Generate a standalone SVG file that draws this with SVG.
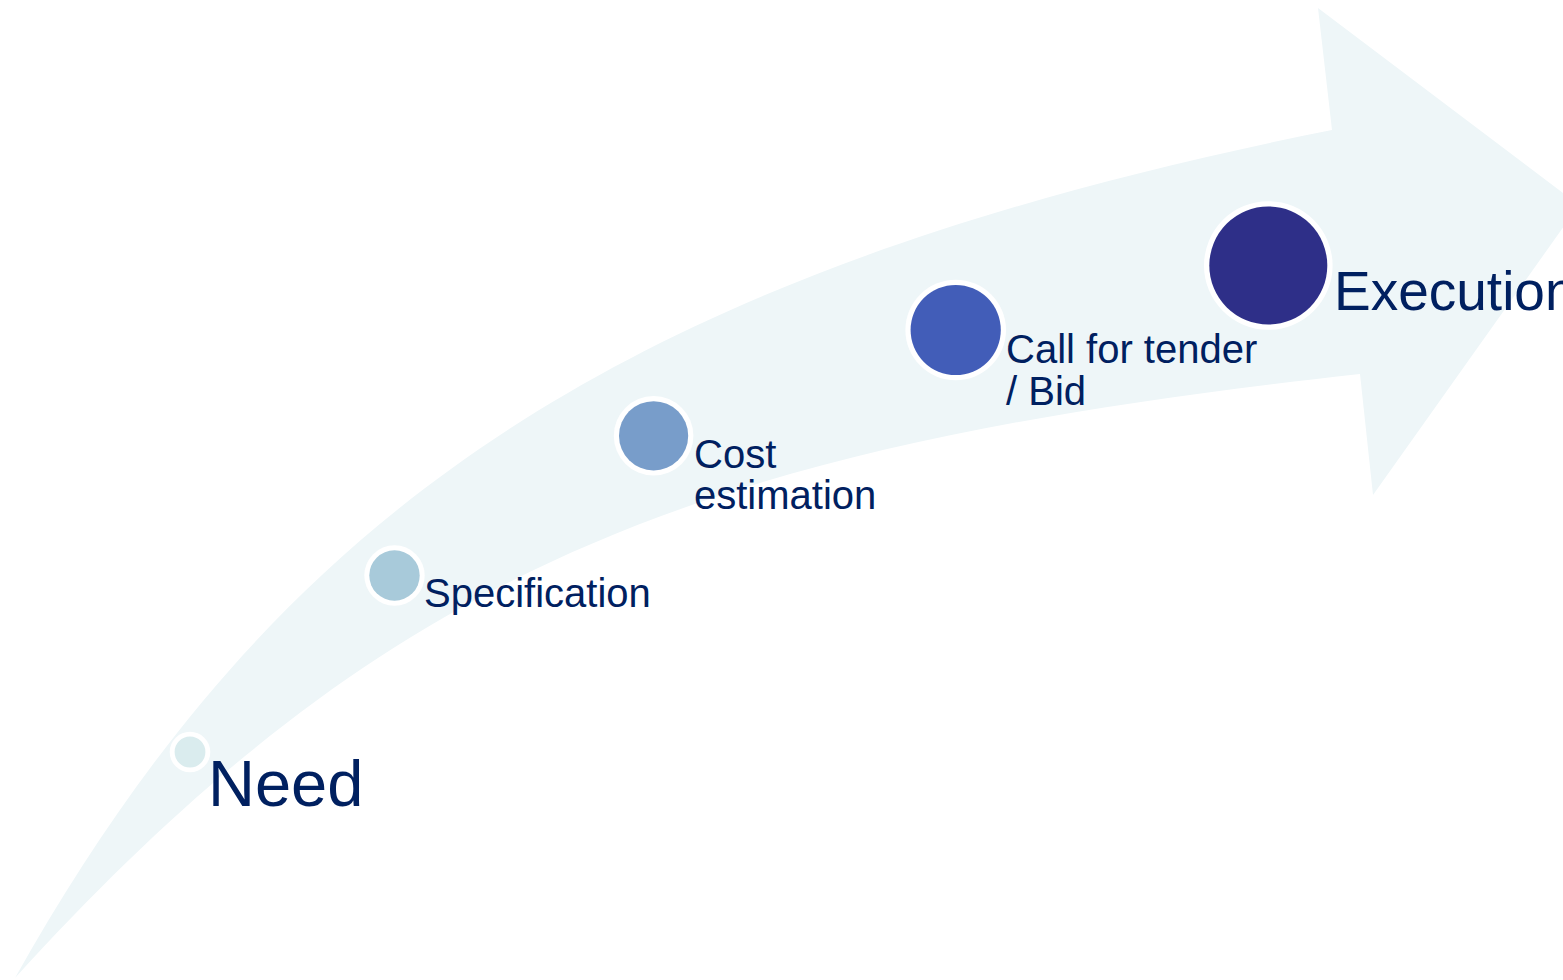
<svg xmlns="http://www.w3.org/2000/svg" width="1563" height="980" viewBox="0 0 1563 980">
  <style>
    .band { fill: #EEF6F8; stroke: none; }
    .ring { fill: #FFFFFF; }
    .label { font-family: "Liberation Sans", Arial, sans-serif; fill: #002060; }
  </style>
  <rect width="1563" height="980" fill="#FFFFFF"/>

  <!-- sweeping process arrow -->
  <g id="process-arrow">
    <path class="band" d="M 15 978
      C 275 515 612 274 1332 130
      L 1318 8 L 1579 205 L 1373 495 L 1360 374
      C 710 445.5 395 560 15 978 Z"/>
  </g>

  <!-- connectors: none drawn beyond the arrow band -->
  <g id="connectors"></g>

  <g id="step-need">
    <circle class="ring" cx="190" cy="752" r="20.3"/>
    <circle cx="190" cy="752" r="15.4" fill="#DAECEE"/>
    <text class="label" x="208" y="806" font-size="65">Need</text>
  </g>

  <g id="step-specification">
    <circle class="ring" cx="394.5" cy="575.5" r="30.2"/>
    <circle cx="394.5" cy="575.5" r="25.2" fill="#A8CADA"/>
    <text class="label" x="424" y="607" font-size="40">Specification</text>
  </g>

  <g id="step-cost">
    <circle class="ring" cx="653.6" cy="435.8" r="39.8"/>
    <circle cx="653.6" cy="435.8" r="34.6" fill="#789DCA"/>
    <text class="label" font-size="40"><tspan x="694" y="468">Cost</tspan><tspan x="694" y="509">estimation</tspan></text>
  </g>

  <g id="step-call-for-tender">
    <circle class="ring" cx="955.7" cy="330" r="50.3"/>
    <circle cx="955.7" cy="330" r="45.1" fill="#425DB8"/>
    <text class="label" font-size="40"><tspan x="1006" y="363">Call for tender</tspan><tspan x="1006" y="405">/ Bid</tspan></text>
  </g>

  <g id="step-execution">
    <circle class="ring" cx="1268.3" cy="265.5" r="64.3"/>
    <circle cx="1268.3" cy="265.5" r="59" fill="#2E2F88"/>
    <text class="label" x="1334" y="310" font-size="55">Execution</text>
  </g>
</svg>
